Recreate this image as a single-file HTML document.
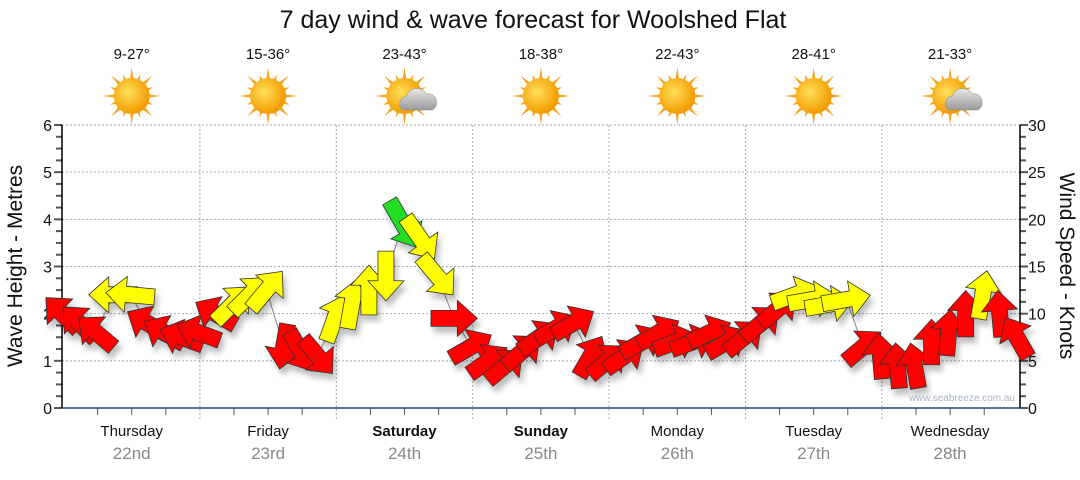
<!DOCTYPE html>
<html><head><meta charset="utf-8"><style>
html,body{margin:0;padding:0;background:#fff}
body{width:1080px;height:475px;overflow:hidden;font-family:"Liberation Sans",sans-serif}
</style></head><body>
<svg id="chart" width="1080" height="475" xmlns="http://www.w3.org/2000/svg" font-family="Liberation Sans, sans-serif">
<defs>
<radialGradient id="sunG" cx="0.4" cy="0.4" r="0.6"><stop offset="0" stop-color="#ffe15a"/><stop offset="1" stop-color="#f39a00"/></radialGradient>
<linearGradient id="cloudG" x1="0" y1="0" x2="0" y2="1"><stop offset="0" stop-color="#e8e8e8"/><stop offset="1" stop-color="#999"/></linearGradient>
<filter id="sh" x="-50%" y="-50%" width="200%" height="200%"><feGaussianBlur in="SourceAlpha" stdDeviation="3"/><feOffset dx="3" dy="6"/><feComponentTransfer><feFuncA type="linear" slope="0.25"/></feComponentTransfer><feMerge><feMergeNode/><feMergeNode in="SourceGraphic"/></feMerge></filter>
</defs>
<text x="533" y="28" text-anchor="middle" font-size="25" fill="#111">7 day wind &amp; wave forecast for Woolshed Flat</text>
<g id="grid"></g>
<g id="axes"></g>
<g id="icons"></g>
<polyline id="waveLine" fill="none" stroke="#888" stroke-width="1"/>
<g id="arrows" filter="url(#sh)"></g>
<text x="1015" y="401" text-anchor="end" font-size="10" fill="#a9b4c4">www.seabreeze.com.au</text>
<text transform="translate(22,266) rotate(-90)" text-anchor="middle" font-size="21" fill="#111">Wave Height - Metres</text>
<text transform="translate(1060,266) rotate(90)" text-anchor="middle" font-size="21" fill="#111">Wind Speed - Knots</text>
</svg>
<script>
const dayNames=["Thursday","Friday","Saturday","Sunday","Monday","Tuesday","Wednesday"];
const dayDates=["22nd","23rd","24th","25th","26th","27th","28th"];
const temps=["9-27°","15-36°","23-43°","18-38°","22-43°","28-41°","21-33°"];
const cloudy=[0,0,1,0,0,0,1];
const waveTicks=[0,1,2,3,4,5,6];
const windTicks=[0,5,10,15,20,25,30];
// 3-hourly values
const waveHeight=[2.0,1.8,1.6,2.4,2.4,1.8,1.6,1.5,1.6,2.0,2.2,2.4,2.5,1.3,1.2,1.1,1.9,2.2,2.5,2.8,3.9,3.6,2.8,1.9,1.3,1.0,0.9,1.2,1.5,1.7,1.8,1.1,1.0,1.1,1.4,1.6,1.4,1.4,1.6,1.4,1.5,1.8,2.1,2.4,2.3,2.2,2.3,1.3,1.1,0.9,0.9,1.4,1.6,2.0,2.4,2.0,1.5];
const windSpeed=[12,12,12,16,16,12,12,12,12,12,16,16,16,12,12,12,16,17,17,17,22,18,17,13,13,12,12,12,13,13,13,12,12,12,13,13,12,12,12,12,12,13,13,16,16,16,16,12,12,12,12,12,13,13,16,13,12];
const windDir=[-135,-135,-140,180,185,-150,-150,-160,-160,-150,-45,-45,-50,100,60,50,-70,-80,-90,90,60,55,50,0,-30,-35,-40,-40,-35,-30,-30,-60,-40,-35,-30,-30,-20,-20,-25,-30,-40,-40,-40,-20,-10,-10,-10,-40,-95,-95,-100,-90,-85,-90,-80,-95,-120];

const svg=document.getElementById('chart');
const NS='http://www.w3.org/2000/svg';
const X0=62,X1=1020,Y0=408,Y1=125,DAYW=136.4,DAYX=63.5;
const yW=v=>Y0-(v/6)*(Y0-Y1);
const yK=v=>Y0-(v/30)*(Y0-Y1);
const xT=i=>X0+i*17.05;
function mk(tag,attrs,parent){const e=document.createElementNS(NS,tag);for(const k in attrs)e.setAttribute(k,attrs[k]);parent.appendChild(e);return e;}
const grid=document.getElementById('grid'),axes=document.getElementById('axes'),icons=document.getElementById('icons');

waveTicks.forEach(v=>{
  if(v>0){const g=mk('line',{x1:X0,x2:X1,y1:yW(v),y2:yW(v),stroke:'#aaa','stroke-dasharray':'2,2'},grid);
  
  }
  const t=mk('text',{x:X0-10,y:yW(v)+6,'text-anchor':'end','font-size':'16',fill:'#111'},axes);t.textContent=v;
  
  
});
windTicks.forEach(v=>{
  const t=mk('text',{x:X1+8,y:yK(v)+6,'font-size':'16',fill:'#111'},axes);t.textContent=v;
  
  
});
for(let i=0;i<=24;i++){const y=Y0-i*(Y0-Y1)/24;const l=i%4==0?8:6;
  mk('line',{x1:X0-l,x2:X0,y1:y,y2:y,stroke:'#555','stroke-width':'2'},axes);
  mk('line',{x1:X1,x2:X1+l,y1:y,y2:y,stroke:'#555','stroke-width':'2'},axes);}
for(let d=0;d<7;d++){
  const xs=DAYX+d*DAYW;
  if(d>0){const g=mk('line',{x1:xs,x2:xs,y1:Y1,y2:Y0+12,stroke:'#aaa','stroke-dasharray':'2,2'},grid);
  
  }
  for(let q=1;q<4;q++){const x=xs+q*DAYW/4;mk('line',{x1:x,x2:x,y1:Y0,y2:Y0+7,stroke:'#555'},axes);}
  const cx=xs+DAYW/2;
  const bold=(d==2||d==3)?'bold':'normal';
  const n=mk('text',{x:cx,y:436,'text-anchor':'middle','font-size':'15','font-weight':bold,fill:'#111'},axes);n.textContent=dayNames[d];
  
  
  const dt=mk('text',{x:cx,y:459,'text-anchor':'middle','font-size':'17',fill:'#888'},axes);dt.textContent=dayDates[d];
  
  
  const tp=mk('text',{x:cx,y:59,'text-anchor':'middle','font-size':'15',fill:'#111'},icons);tp.textContent=temps[d];
  
  
  const g=mk('g',{transform:`translate(${cx},96)`},icons);
  
  
  for(let r=0;r<16;r++){const a=r*22.5*Math.PI/180,len=r%2?23:29;
    mk('polygon',{points:`${Math.cos(a-0.12)*16},${Math.sin(a-0.12)*16} ${Math.cos(a)*len},${Math.sin(a)*len} ${Math.cos(a+0.12)*16},${Math.sin(a+0.12)*16}`,fill:'#f5a623'},g);}
  mk('circle',{r:18,fill:'url(#sunG)'},g);
  if(cloudy[d]){mk('path',{d:'M-2,14 a8,8 0 0 1 4,-14 a11,11 0 0 1 20,-2 a8,8 0 0 1 10,8 a8,8 0 0 1 -4,8 z',fill:'url(#cloudG)',stroke:'#888','stroke-width':'0.5'},g);}
}
mk('line',{x1:X0,x2:X0,y1:Y1,y2:Y0,stroke:'#000','stroke-width':'1.5'},axes);
mk('line',{x1:X1,x2:X1,y1:Y1,y2:Y0,stroke:'#000','stroke-width':'1.5'},axes);
mk('line',{x1:X0,x2:X1,y1:Y0,y2:Y0,stroke:'#1a4a7a','stroke-width':'1.5'},axes);

document.getElementById('waveLine').setAttribute('points',waveHeight.map((v,i)=>xT(i)+','+yW(v)).join(' '));
const ag=document.getElementById('arrows');
waveHeight.forEach((v,i)=>{
  const s=windSpeed[i];
  const col=s>=20?'#22dd22':s>=15?'#ffff00':'#ff0000';
  const L=36+s*0.8,hw=18,sw=8,hl=20;
  const p=`${-L/2},${-sw} ${L/2-hl},${-sw} ${L/2-hl},${-hw} ${L/2},0 ${L/2-hl},${hw} ${L/2-hl},${sw} ${-L/2},${sw}`;
  const a=mk('polygon',{points:p,fill:col,stroke:'#333','stroke-width':'0.8',transform:`translate(${xT(i)},${yW(v)}) rotate(${windDir[i]})`},ag);
  
  
});
</script>
</body></html>
